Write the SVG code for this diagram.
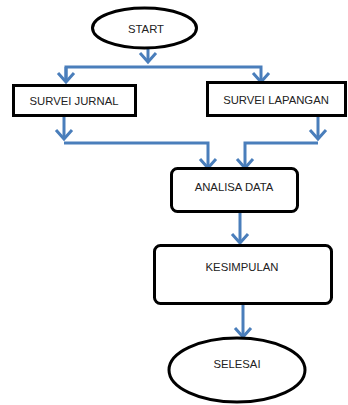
<svg xmlns="http://www.w3.org/2000/svg" width="348" height="405" viewBox="0 0 348 405">
<style>
.n{fill:#fff;stroke:#000;stroke-width:3}
.t{font-family:"Liberation Sans",Arial,sans-serif;font-size:11.3px;fill:#222;text-anchor:middle}
.c{fill:none;stroke:#4a7ebb;stroke-width:3;stroke-linejoin:miter}
</style>
<defs>
<marker id="a" markerUnits="userSpaceOnUse" markerWidth="24" markerHeight="24" refX="12" refY="12" orient="auto" viewBox="0 0 24 24">
<path d="M3 4 L12 12 L3 20" fill="none" stroke="#4a7ebb" stroke-width="3"/>
</marker>
</defs>
<rect width="348" height="405" fill="#fff"/>
<g id="connectors">
<path class="c" d="M148 38 V62" marker-end="url(#a)"/>
<path class="c" d="M66 82 V67 H261 V82" marker-end="url(#a)"/>
<path class="c" d="M66 67 V82" marker-end="url(#a)"/>
<path class="c" d="M64 116 V139" marker-end="url(#a)"/>
<path class="c" d="M64 143 H208 V168" marker-end="url(#a)"/>
<path class="c" d="M318 116 V139" marker-end="url(#a)"/>
<path class="c" d="M318 143 H245 V168" marker-end="url(#a)"/>
<path class="c" d="M240 212 V243" marker-end="url(#a)"/>
<path class="c" d="M243 303 V337" marker-end="url(#a)"/>
</g>
<g id="start">
<ellipse class="n" cx="144.5" cy="28" rx="52" ry="20"/>
<text class="t" x="146" y="33">START</text>
</g>
<g id="survei-jurnal">
<rect class="n" x="13.5" y="85.5" width="122" height="30"/>
<text class="t" x="74" y="105">SURVEI JURNAL</text>
</g>
<g id="survei-lapangan">
<rect class="n" x="207.5" y="82.5" width="138" height="33"/>
<text class="t" x="276" y="104">SURVEI LAPANGAN</text>
</g>
<g id="analisa-data">
<rect class="n" x="171.5" y="168.5" width="126" height="43" rx="6"/>
<text class="t" x="234" y="191">ANALISA DATA</text>
</g>
<g id="kesimpulan">
<rect class="n" x="154.5" y="245.5" width="177" height="58" rx="6"/>
<text class="t" x="242" y="271">KESIMPULAN</text>
</g>
<g id="selesai">
<ellipse class="n" cx="237" cy="370" rx="68" ry="32"/>
<text class="t" x="237" y="368">SELESAI</text>
</g>
</svg>
